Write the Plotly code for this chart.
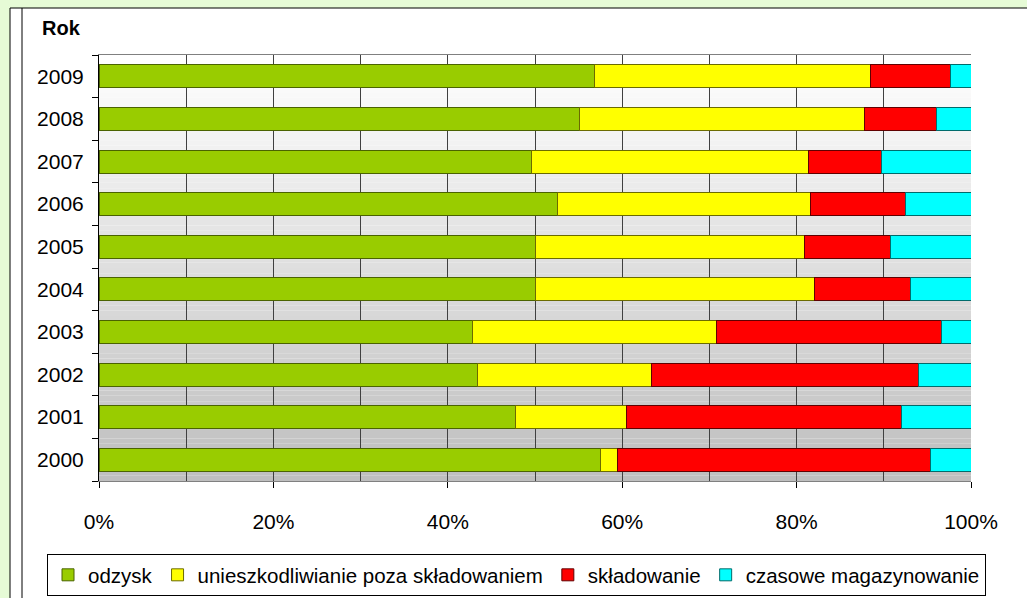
import plotly.graph_objects as go

years = ["2000", "2001", "2002", "2003", "2004", "2005", "2006", "2007", "2008", "2009"]
odzysk = [57.5, 47.8, 43.4, 42.8, 50.1, 50.1, 52.6, 49.6, 55.1, 56.8]
unieszk = [2.0, 12.7, 20.0, 28.0, 32.0, 30.8, 29.0, 31.8, 32.7, 31.7]
skladowanie = [35.9, 31.5, 30.6, 25.8, 11.0, 9.9, 10.9, 8.3, 8.3, 9.2]
czasowe = [4.6, 8.0, 6.0, 3.4, 6.9, 9.2, 7.5, 10.3, 3.9, 2.3]

series = [
    ("odzysk", odzysk, "#99cc00", "#4a6300"),
    ("unieszkodliwianie poza składowaniem", unieszk, "#ffff00", "#6b6b00"),
    ("składowanie", skladowanie, "#ff0000", "#600000"),
    ("czasowe magazynowanie", czasowe, "#00ffff", "#006b6b"),
]

W, H = 1027, 598
L, R, T, B = 99, 971, 55, 481
pw, ph = R - L, B - T


def px(x):
    return (x - L) / pw


def py(y):
    return (B - y) / ph


fig = go.Figure()
for name, vals, col, lcol in series:
    fig.add_trace(go.Bar(
        y=years, x=vals, name=name, orientation="h",
        marker=dict(color=col, line=dict(color=lcol, width=1)),
    ))

shapes = []
# white chart frame
shapes.append(dict(type="rect", xref="paper", yref="paper", x0=px(10), x1=px(1040),
                   y0=py(8), y1=py(610), fillcolor="white",
                   line=dict(color="black", width=1), layer="below"))
shapes.append(dict(type="line", xref="paper", yref="paper", x0=px(22), x1=px(22),
                   y0=py(8), y1=py(610), line=dict(color="black", width=1), layer="below"))
# gradient plot background
n = 80
for i in range(n):
    t = i / (n - 1)
    v = round(255 - t * (255 - 190))
    shapes.append(dict(type="rect", xref="paper", yref="paper", x0=0, x1=1,
                       y0=1 - (i + 1) / n, y1=1 - i / n,
                       fillcolor=f"rgb({v},{v},{v})", line=dict(width=0), layer="below"))

fig.update_layout(
    width=W, height=H,
    margin=dict(l=L, r=W - R, t=T, b=H - B, autoexpand=False),
    barmode="stack", barnorm="fraction", bargap=0.46,
    paper_bgcolor="#e6fbd6", plot_bgcolor="rgba(0,0,0,0)",
    font=dict(family="Liberation Sans, Arial, sans-serif", size=21, color="black"),
    shapes=shapes,
    showlegend=True,
    legend=dict(orientation="h", x=px(47), xanchor="left", y=py(554), yanchor="top",
                bgcolor="white", bordercolor="black", borderwidth=1,
                font=dict(size=20.5), traceorder="normal", itemwidth=30),
    annotations=[dict(text="<b>Rok</b>", xref="paper", yref="paper", x=px(40), y=py(28),
                      xanchor="left", yanchor="middle", showarrow=False,
                      font=dict(size=20))],
)
fig.update_xaxes(range=[0, 1], dtick=0.2, tickformat=".0%", showgrid=True,
                 gridcolor="#404040", gridwidth=1,
                 minor=dict(dtick=0.1, showgrid=True, gridcolor="#404040", gridwidth=1),
                 ticks="outside", ticklen=6, tickcolor="black",
                 showline=True, linecolor="#808080", linewidth=1, mirror=True,
                 ticklabelstandoff=16, zeroline=False, fixedrange=True)
fig.update_yaxes(categoryorder="array", categoryarray=years, tickson="boundaries",
                 ticks="outside", ticklen=6, tickcolor="black",
                 showline=True, linecolor="black", linewidth=1, showgrid=False,
                 ticklabelstandoff=10, fixedrange=True)

fig.write_html("out.html", config={"displayModeBar": False},
               post_script="document.body.style.margin='0';document.body.style.padding='0';")
